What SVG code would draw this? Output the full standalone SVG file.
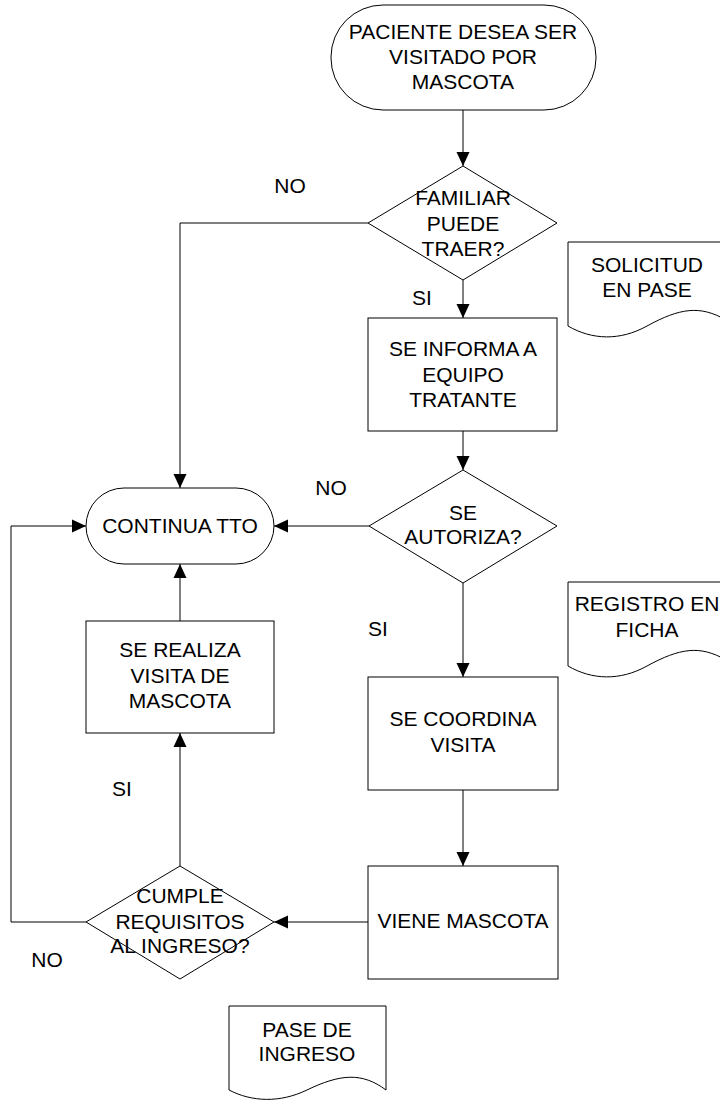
<svg xmlns="http://www.w3.org/2000/svg" width="720" height="1101" viewBox="0 0 720 1101">
<style>
.s{fill:#fff;stroke:#000;stroke-width:1}
.t{font-family:"Liberation Sans",Arial,sans-serif;font-size:21px;fill:#000;text-anchor:middle}
.c{fill:none;stroke:#000;stroke-width:1}
</style>
<defs>
<marker id="a" markerUnits="userSpaceOnUse" markerWidth="14" markerHeight="14" viewBox="0 0 14 14" refX="14" refY="7" orient="auto">
<path d="M0,0.5 L14,7 L0,13.5 Z" fill="#000"/>
</marker>
</defs>
<rect width="720" height="1101" fill="#fff"/>
<g id="connectors">
<line class="c" x1="463" y1="110" x2="463" y2="166" marker-end="url(#a)"/>
<line class="c" x1="463" y1="280" x2="463" y2="318" marker-end="url(#a)"/>
<line class="c" x1="463" y1="431" x2="463" y2="470" marker-end="url(#a)"/>
<line class="c" x1="463" y1="583" x2="463" y2="677" marker-end="url(#a)"/>
<line class="c" x1="463" y1="790" x2="463" y2="866" marker-end="url(#a)"/>
<line class="c" x1="368" y1="922" x2="274" y2="922" marker-end="url(#a)"/>
<line class="c" x1="180" y1="866" x2="180" y2="733" marker-end="url(#a)"/>
<line class="c" x1="180" y1="621" x2="180" y2="564" marker-end="url(#a)"/>
<line class="c" x1="369" y1="526" x2="274" y2="526" marker-end="url(#a)"/>
<polyline class="c" points="368,223 180,223 180,488" marker-end="url(#a)"/>
<polyline class="c" points="86,922 11,922 11,526 86,526" marker-end="url(#a)"/>
<text class="t" x="290" y="193">NO</text>
<text class="t" x="422" y="305">SI</text>
<text class="t" x="331" y="495">NO</text>
<text class="t" x="378" y="636">SI</text>
<text class="t" x="122" y="796">SI</text>
<text class="t" x="47" y="967">NO</text>
</g>
<g id="start">
<rect class="s" x="331" y="5" width="265" height="105" rx="52" ry="52"/>
<text class="t" x="463" y="39">PACIENTE DESEA SER</text>
<text class="t" x="463" y="64">VISITADO POR</text>
<text class="t" x="463" y="89">MASCOTA</text>
</g>
<g id="d1">
<polygon class="s" points="463,166 557,223 463,280 368,223"/>
<text class="t" x="463" y="205">FAMILIAR</text>
<text class="t" x="463" y="231">PUEDE</text>
<text class="t" x="463" y="256">TRAER?</text>
</g>
<g id="doc1">
<path class="s" d="M568,242 H726 V320 C700,305 680,308 647,326 C620,341 592,340 568,326 Z"/>
<text class="t" x="647" y="272">SOLICITUD</text>
<text class="t" x="647" y="297">EN PASE</text>
</g>
<g id="r1">
<rect class="s" x="368" y="318" width="189" height="113"/>
<text class="t" x="463" y="356">SE INFORMA A</text>
<text class="t" x="463" y="382">EQUIPO</text>
<text class="t" x="463" y="407">TRATANTE</text>
</g>
<g id="d2">
<polygon class="s" points="463,470 557,526 463,583 369,526"/>
<text class="t" x="463" y="520">SE</text>
<text class="t" x="463" y="544">AUTORIZA?</text>
</g>
<g id="cont">
<rect class="s" x="86" y="488" width="188" height="76" rx="38" ry="38"/>
<text class="t" x="180" y="533">CONTINUA TTO</text>
</g>
<g id="doc2">
<path class="s" d="M568,582 H726 V660 C700,645 680,648 647,666 C620,681 592,680 568,666 Z"/>
<text class="t" x="647" y="611">REGISTRO EN</text>
<text class="t" x="647" y="637">FICHA</text>
</g>
<g id="r2">
<rect class="s" x="86" y="621" width="188" height="112"/>
<text class="t" x="180" y="657">SE REALIZA</text>
<text class="t" x="180" y="683">VISITA DE</text>
<text class="t" x="180" y="708">MASCOTA</text>
</g>
<g id="r3">
<rect class="s" x="368" y="677" width="190" height="113"/>
<text class="t" x="463" y="726">SE COORDINA</text>
<text class="t" x="463" y="752">VISITA</text>
</g>
<g id="r4">
<rect class="s" x="368" y="866" width="190" height="113"/>
<text class="t" x="463" y="928">VIENE MASCOTA</text>
</g>
<g id="d3">
<polygon class="s" points="180,866 274,922 180,979 86,922"/>
<text class="t" x="180" y="903">CUMPLE</text>
<text class="t" x="180" y="929">REQUISITOS</text>
<text class="t" x="180" y="953">AL INGRESO?</text>
</g>
<g id="doc3">
<path class="s" d="M229,1006 H386 V1090 C362,1072 340,1074 307,1090 C280,1103 252,1102 229,1090 Z"/>
<text class="t" x="307" y="1037">PASE DE</text>
<text class="t" x="307" y="1061">INGRESO</text>
</g>
</svg>
